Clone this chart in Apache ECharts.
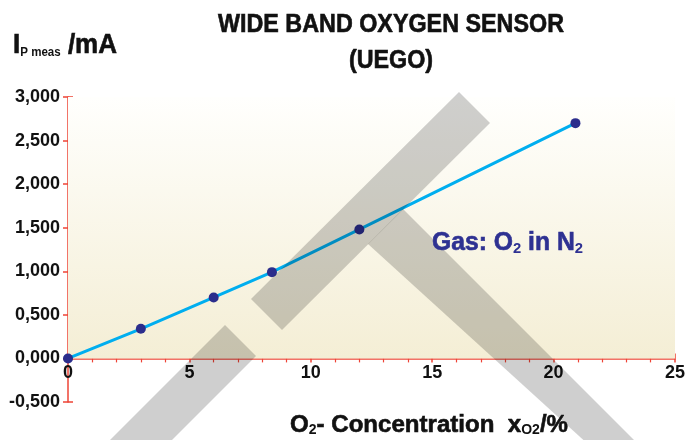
<!DOCTYPE html>
<html><head><meta charset="utf-8">
<script src="https://cdn.jsdelivr.net/npm/echarts@6/dist/echarts.min.js"></script>
<style>html,body{margin:0;padding:0;background:#fff}#c{width:699px;height:440px}</style>
</head><body><div id="c"></div>
<script>
const xValues = [0, 3, 6, 8.4, 12, 20.9];
const yValues = [0, 0.34, 0.70, 0.99, 1.48, 2.70];
const xTicks = [0, 5, 10, 15, 20, 25];
const yTicks = [-0.5, 0, 0.5, 1, 1.5, 2, 2.5, 3];
const titleLines = ['WIDE BAND OXYGEN SENSOR', '(UEGO)'];

const FONT = '"Liberation Sans", Arial, sans-serif';
const FW = 'bold';
const RED = '#ee4436';
const fmtY = v => v.toFixed(3).replace('.', ',');

// measure text to compress it horizontally (to imitate a condensed face)
const mctx = document.createElement('canvas').getContext('2d');
function measure(parts) {
  let w = 0;
  parts.forEach(p => { mctx.font = 'bold ' + p[1] + 'px ' + FONT; w += mctx.measureText(p[0]).width; });
  return w;
}
const titleScale = 346 / measure([[titleLines[0], 25]]);
const yNameScale = 104 / measure([['I', 27], ['P meas', 12], [' /mA', 27]]);
const xNameScale = 278 / measure([['O', 24], ['2', 14], ['- Concentration  x', 24], ['O2', 14], ['/%', 24]]);
const gasScale = 151 / measure([['Gas: O', 25], ['2', 15], [' in N', 25], ['2', 15]]);

const chart = echarts.init(document.getElementById('c'), null, {renderer: 'canvas'});
const yBase = {
  type: 'value', min: yTicks[0], max: yTicks[yTicks.length - 1], interval: 0.5,
  splitLine: {show: false}
};
const xBase = {
  type: 'value', min: xTicks[0], max: xTicks[xTicks.length - 1], interval: 5,
  splitLine: {show: false}, position: 'bottom', offset: -43.6
};
const gray = 'rgba(0,0,0,0.19)';
const heavy = (c) => ({stroke: c, lineWidth: 0.6});
chart.setOption({
  animation: false,
  grid: {left: 68, right: 24, top: 97, bottom: 38, containLabel: false},
  xAxis: [
    Object.assign({}, xBase, {
      axisLine: {show: true, onZero: false, lineStyle: {color: RED, width: 1.5}},
      axisTick: {show: true, inside: false, length: 4, lineStyle: {color: RED, width: 1.5}},
      minorTick: {show: true, splitNumber: 5, length: 4, lineStyle: {color: RED, width: 1.2}},
      axisLabel: {fontFamily: FONT, fontWeight: FW, fontSize: 18, color: '#111', margin: 6,
        formatter: v => String(v)}
    }),
    Object.assign({}, xBase, {
      axisLine: {show: false, onZero: false},
      axisTick: {show: true, inside: true, length: 5, lineStyle: {color: RED, width: 1.5}},
      axisLabel: {show: false}
    })
  ],
  yAxis: [
    Object.assign({}, yBase, {
      position: 'left',
      axisLine: {show: true, onZero: false, lineStyle: {color: RED, width: 1.5}},
      axisTick: {show: true, inside: false, length: 5, lineStyle: {color: RED, width: 1.5}},
      axisLabel: {fontFamily: FONT, fontWeight: FW, fontSize: 18, color: '#111', margin: 8,
        formatter: fmtY}
    }),
    Object.assign({}, yBase, {
      position: 'left',
      axisLine: {show: false, onZero: false},
      axisTick: {show: true, inside: true, length: 5, lineStyle: {color: RED, width: 1.5}},
      axisLabel: {show: false}
    })
  ],
  series: [{
    type: 'line',
    data: xValues.map((x, i) => [x, yValues[i]]),
    symbol: 'circle', symbolSize: 10,
    lineStyle: {color: '#00aeef', width: 3},
    itemStyle: {color: '#2b2d8c'},
    z: 3,
    markArea: {
      silent: true,
      itemStyle: {
        color: {type: 'linear', x: 0, y: 0, x2: 0, y2: 1,
          colorStops: [{offset: 0, color: '#fffffd'}, {offset: 1, color: '#f4eed5'}]}
      },
      data: [[{coord: [xTicks[0], 0]}, {coord: [xTicks[xTicks.length - 1], yTicks[yTicks.length - 1]]}]]
    }
  }],
  graphic: [
    {type: 'polygon', z: 50, silent: true, shape: {points: [[459, 92], [490, 123], [282, 330], [251, 299]]}, style: {fill: gray}},
    {type: 'polygon', z: 50, silent: true, shape: {points: [[403, 209], [640, 446], [590, 446], [368, 244]]}, style: {fill: gray}},
    {type: 'polygon', z: 50, silent: true, shape: {points: [[225, 325], [256, 356], [166, 446], [104, 446]]}, style: {fill: gray}},
    {type: 'text', x: 391, y: 7, scaleX: titleScale, z: 60, style: Object.assign({
      text: titleLines.join('\n'), align: 'center', verticalAlign: 'top', fontFamily: FONT, fontWeight: FW,
      fontSize: 25, lineHeight: 36, fill: '#111'
    }, heavy('#111'))},
    {type: 'text', x: 13, y: 59, scaleX: yNameScale, z: 60, style: {
      text: '{b|I}{s|P meas}{b| /mA}', align: 'left', verticalAlign: 'bottom',
      rich: {
        b: Object.assign({fontFamily: FONT, fontWeight: FW, fontSize: 27, fill: '#111', verticalAlign: 'bottom'}, heavy('#111')),
        s: {fontFamily: FONT, fontWeight: FW, fontSize: 12, fill: '#111', verticalAlign: 'bottom'}
      }
    }},
    {type: 'text', x: 290, y: 437, scaleX: xNameScale, z: 60, style: {
      text: '{b|O}{s|2}{b|- Concentration  x}{s|O2}{b|/%}', align: 'left', verticalAlign: 'bottom',
      rich: {
        b: Object.assign({fontFamily: FONT, fontWeight: FW, fontSize: 24, fill: '#111', verticalAlign: 'bottom'}, heavy('#111')),
        s: {fontFamily: FONT, fontWeight: FW, fontSize: 14, fill: '#111', verticalAlign: 'bottom'}
      }
    }},
    {type: 'text', x: 432, y: 256, scaleX: gasScale, z: 60, style: {
      text: '{b|Gas: O}{s|2}{b| in N}{s|2}', align: 'left', verticalAlign: 'bottom',
      rich: {
        b: Object.assign({fontFamily: FONT, fontWeight: FW, fontSize: 25, fill: '#2e3192', verticalAlign: 'bottom'}, heavy('#2e3192')),
        s: {fontFamily: FONT, fontWeight: FW, fontSize: 15, fill: '#2e3192', verticalAlign: 'bottom'}
      }
    }}
  ]
});
</script>
</body></html>
